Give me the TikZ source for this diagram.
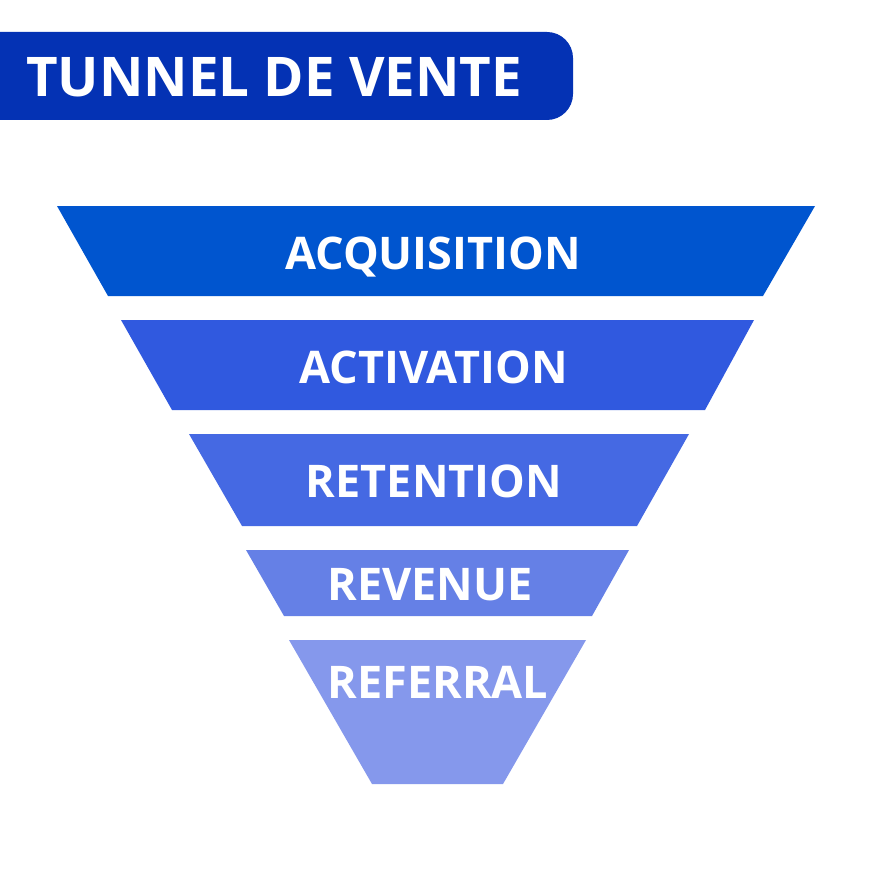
\documentclass[tikz,border=0pt]{standalone}
\usepackage{fontspec}
\setmainfont{Open Sans}
\definecolor{titleblue}{RGB}{4,50,180}
\definecolor{cA}{RGB}{0,85,207}
\definecolor{cB}{RGB}{48,89,223}
\definecolor{cC}{RGB}{69,105,227}
\definecolor{cD}{RGB}{101,128,230}
\definecolor{cE}{RGB}{133,152,236}
\tikzset{
  lbl/.style={text=white, font=\fontsize{45}{45}\selectfont\bfseries, inner sep=0pt, anchor=base},
  ttl/.style={text=white, font=\fontsize{54.7}{55}\selectfont\bfseries, inner sep=0pt, anchor=base west}
}
\begin{document}
\begin{tikzpicture}[x=1pt,y=-1pt]
\useasboundingbox (0,0) rectangle (872,872);
\fill[white] (0,0) rectangle (872,872);
% title
\fill[titleblue, rounded corners=26pt] (-40,32) rectangle (573,120);
\node[ttl] (title) at (26,97) {TUNNEL DE VENTE};
% funnel layers
\fill[cA] (57,206) -- (815,206) -- (763,296) -- (108,296) -- cycle;
\fill[cB] (121,320) -- (754,320) -- (705,410) -- (172,410) -- cycle;
\fill[cC] (189,434) -- (689,434) -- (637,526) -- (242,526) -- cycle;
\fill[cD] (246,550) -- (629,550) -- (592,616) -- (284,616) -- cycle;
\fill[cE] (289,640) -- (586,640) -- (503,784) -- (372,784) -- cycle;
% labels
\node[lbl] (lA) at (433,269) {ACQUISITION};
\node[lbl] (lB) at (434,383) {ACTIVATION};
\node[lbl] (lC) at (434,497) {RETENTION};
\node[lbl] (lD) at (430,600) {REVENUE};
\node[lbl] (lE) at (438,698) {REFERRAL};
\end{tikzpicture}
\end{document}
